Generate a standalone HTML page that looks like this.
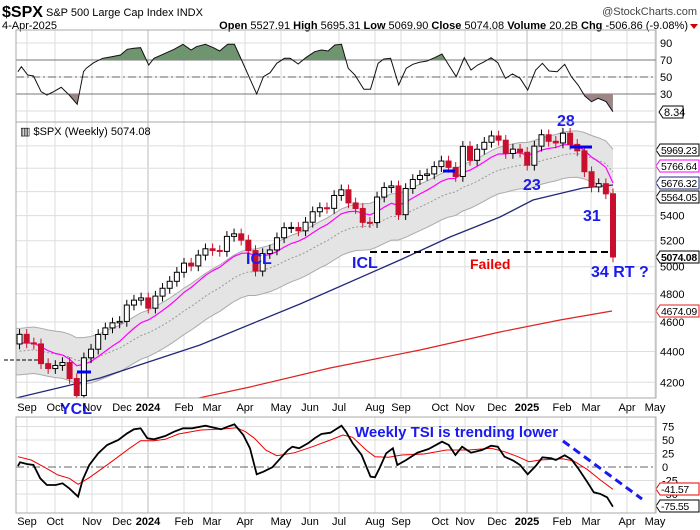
<!DOCTYPE html>
<html><head><meta charset="utf-8">
<style>
body{margin:0;background:#fff;width:700px;height:530px;overflow:hidden;font-family:"Liberation Sans",sans-serif}
svg{position:absolute;left:0;top:0}
</style></head><body>
<svg id="s" width="700" height="530" xmlns="http://www.w3.org/2000/svg" font-family="Liberation Sans, sans-serif"></svg>
<script>
const S=document.getElementById('s');let h='';
const L=16,R=656;
function yP(p){return 266.7-663*Math.log(p/5000);}
h+=`<text x="2" y="17" font-size="16" font-weight="bold">$SPX</text><text x="46" y="16" font-size="11">S&amp;P 500 Large Cap Index  INDX</text>`;
h+=`<text x="697" y="15" font-size="11" text-anchor="end" fill="#444">@StockCharts.com</text>`;
h+=`<text x="2" y="29" font-size="11">4-Apr-2025</text>`;
h+=`<text x="688" y="29" font-size="11" text-anchor="end"><tspan font-weight="bold">Open</tspan> 5527.91 <tspan font-weight="bold">High</tspan> 5695.31 <tspan font-weight="bold">Low</tspan> 5069.90 <tspan font-weight="bold">Close</tspan> 5074.08 <tspan font-weight="bold">Volume</tspan> 20.2B <tspan font-weight="bold">Chg</tspan> -506.86 (-9.08%)</text><path d="M690,24 L698,24 L694,29Z" fill="#c00"/>`;
const months=[[27,'Sep'],[55,'Oct'],[92,'Nov'],[122,'Dec'],[148,'2024',1],[184,'Feb'],[212,'Mar'],[245,'Apr'],[281,'May'],[310,'Jun'],[339,'Jul'],[375,'Aug'],[401,'Sep'],[440,'Oct'],[465,'Nov'],[497,'Dec'],[527,'2025',1],[562,'Feb'],[591,'Mar'],[627,'Apr'],[655,'May']];
function vgrid(t,b){months.forEach(m=>{if(m[0]>L&&m[0]<R)h+=`<line x1="${m[0]}" y1="${t}" x2="${m[0]}" y2="${b}" stroke="${m[2]?'#bbb':'#ddd'}"/>`;});}
function dates(y){months.forEach(m=>{h+=`<text x="${m[0]}" y="${y}" font-size="11" text-anchor="middle" ${m[2]?'font-weight="bold"':''}>${m[1]}</text>`;});}
vgrid(30,122);
[43,60,77,94,111].forEach(y=>h+=`<line x1="${L}" y1="${y}" x2="${R}" y2="${y}" stroke="#ddd"/>`);
h+=`<line x1="${L}" y1="60" x2="${R}" y2="60" stroke="#777"/><line x1="${L}" y1="94" x2="${R}" y2="94" stroke="#777"/><line x1="${L}" y1="77" x2="${R}" y2="77" stroke="#666" stroke-dasharray="8,3,2,3"/>`;
const rsi=[[40,215],[48,200],[62,225],[75,228],[92,275],[105,285],[120,275],[137,262],[155,285],[173,313],[187,215],[193,205],[210,188],[230,175],[250,170],[270,165],[285,148],[300,145],[315,143],[333,195],[345,175],[370,160],[390,148],[410,133],[428,150],[440,140],[460,133],[478,143],[492,153],[510,133],[525,133],[542,183],[575,282],[590,230],[605,218],[620,190],[637,175],[650,175],[668,192],[685,173],[705,155],[720,150],[735,153],[750,135],[765,133],[780,205],[795,225],[815,268],[830,268],[847,190],[860,177],[875,175],[893,255],[910,205],[925,193],[940,187],[957,183],[975,172],[990,162],[1005,195],[1022,230],[1040,173],[1055,210],[1070,195],[1085,185],[1100,173],[1115,188],[1132,235],[1148,222],[1165,235],[1182,270],[1200,210],[1215,190],[1230,213],[1248,215],[1265,193],[1280,230],[1295,255],[1310,288],[1325,305],[1340,295],[1358,305],[1373,335]].map(p=>[p[0]/2.24,p[1]/3]);
const rp=rsi.map(p=>p[0].toFixed(1)+','+p[1].toFixed(1)).join(' ');
h+=`<clipPath id="cg"><rect x="0" y="0" width="700" height="60"/></clipPath><clipPath id="cb"><rect x="0" y="94" width="700" height="40"/></clipPath>`;
h+=`<polygon clip-path="url(#cg)" points="${rsi[0][0]},60 ${rp} ${rsi[rsi.length-1][0]},60" fill="#6f9470"/>`;
h+=`<polygon clip-path="url(#cb)" points="${rsi[0][0]},94 ${rp} ${rsi[rsi.length-1][0]},94" fill="#9c8585"/>`;
h+=`<polyline points="${rp}" fill="none" stroke="#111" stroke-width="1"/>`;
[[90,43],[70,60],[50,77],[30,94]].forEach(a=>h+=`<text x="660" y="${a[1]+4}" font-size="11">${a[0]}</text>`);
h+=`<path d="M659,112 L663,106 L683,106 L683,118 L663,118Z" fill="#fff" stroke="#000"/><text x="664" y="116" font-size="11">8.34</text>`;
h+=`<rect x="${L}" y="30" width="${R-L}" height="92" fill="none" stroke="#aaa"/>`;
vgrid(122,398);
[4200,4400,4600,4800,5000,5200,5400,5600,5800,6000].forEach(p=>h+=`<line x1="${L}" y1="${yP(p)}" x2="${R}" y2="${yP(p)}" stroke="#ddd"/>`);
const C=[4515,4457,4450,4320,4288,4308,4327,4224,4117,4358,4415,4514,4559,4594,4604,4719,4754,4770,4697,4783,4840,4891,4958,5027,5006,5088,5137,5124,5117,5234,5254,5204,5123,4967,5100,5128,5223,5303,5305,5278,5347,5432,5465,5460,5567,5615,5505,5459,5346,5344,5554,5634,5648,5408,5626,5703,5738,5751,5815,5864,5808,5729,5995,5870,5969,6032,6090,6051,5931,5970,5942,5827,5997,6101,6041,6026,6115,6013,5955,5770,5639,5667,5581,5074];
const pre=[4100,4150,4180,4200,4230,4280,4300,4350,4400,4410,4450,4400,4536,4505,4580,4582,4536,4478,4464,4370,4406];
const all=pre.concat(C);const N=C.length,sp=7.15;
const X=i=>613-(N-1-i)*sp;
function ema(n){let k=2/(n+1),e=all[0],o=[];all.forEach(v=>{e=v*k+e*(1-k);o.push(e);});return o.slice(pre.length);}
const e20=ema(20),e10=ema(10);
let up=[],lo=[],md=[],mg=[];
for(let i=0;i<N;i++){up.push(X(i)+','+yP(e20[i]*1.035));lo.push(X(i)+','+yP(e20[i]*0.965));md.push(X(i)+','+yP(e20[i]));mg.push(X(i)+','+yP(e10[i]));}
h+=`<clipPath id="cm"><rect x="${L}" y="122" width="${R-L}" height="276"/></clipPath><g clip-path="url(#cm)">`;
h+=`<polygon points="${L},${yP(e20[0]*1.035)} ${up.join(' ')} ${lo.slice().reverse().join(' ')} ${L},${yP(e20[0]*0.965)}" fill="#e4e4e4"/>`;
h+=`<polyline points="${L},${yP(e20[0]*1.035)} ${up.join(' ')}" fill="none" stroke="#aaa"/><polyline points="${L},${yP(e20[0]*0.965)} ${lo.join(' ')}" fill="none" stroke="#aaa"/>`;
h+=`<polyline points="${md.join(' ')}" fill="none" stroke="#999" stroke-dasharray="2,2"/>`;
h+=`<polyline points="16,398 100,378 200,345 300,304 400,260 450,237 500,217 533,200 583,188 613,185" fill="none" stroke="#22287a" stroke-width="1.3"/>`;
h+=`<polyline points="180,402 250,387 330,368 420,350 500,332 560,320 612,311" fill="none" stroke="#d22" stroke-width="1.2"/>`;
h+=`<polyline points="${mg.join(' ')}" fill="none" stroke="#f0f" stroke-width="1.2"/>`;
for(let i=0;i<N;i++){const c=C[i],o=i?C[i-1]:4450;const hi=Math.max(c,o)*1.008,lw=Math.min(c,o)*0.992;const x=X(i),dn=c<o;const col=dn?'#c8102e':'#000';
h+=`<line x1="${x}" y1="${yP(hi)}" x2="${x}" y2="${yP(lw)}" stroke="${col}"/>`;
const t=yP(Math.max(c,o)),b=yP(Math.min(c,o));h+=`<rect x="${x-2.5}" y="${t}" width="5" height="${Math.max(1,b-t)}" fill="${dn?col:'#fff'}" stroke="${col}"/>`;}
h+=`</g>`;
h+=`<line x1="370" y1="252" x2="610" y2="252" stroke="#000" stroke-width="2" stroke-dasharray="7,4"/><line x1="4" y1="360" x2="40" y2="360" stroke="#000" stroke-dasharray="4,2"/>`;
[[77,91,372],[443,455,171],[570,592,147]].forEach(a=>h+=`<line x1="${a[0]}" y1="${a[2]}" x2="${a[1]}" y2="${a[2]}" stroke="#00f" stroke-width="3"/>`);
h+=`<text x="20" y="135" font-size="11" fill="#000">▥ $SPX (Weekly) 5074.08</text>`;
const bl='fill="#1a1aee" font-weight="bold" font-size="16"';
h+=`<text x="557" y="126" ${bl}>28</text><text x="523" y="190" ${bl}>23</text><text x="583" y="221" ${bl}>31</text><text x="591" y="277" ${bl}>34 RT ?</text><text x="246" y="264" ${bl}>ICL</text><text x="352" y="268" ${bl}>ICL</text><text x="60" y="414" ${bl}>YCL</text>`;
h+=`<text x="470" y="269" fill="#e00" font-weight="bold" font-size="14">Failed</text>`;
[4200,4400,4600,4800,5000,5200,5400].forEach(p=>h+=`<text x="660" y="${yP(p)+4}" font-size="11">${p}</text>`);
function tag(y,t,c,bold){h+=`<path d="M656,${y} L660,${y-6} L699,${y-6} L699,${y+6} L660,${y+6}Z" fill="#fff" stroke="${c}"/><text x="661" y="${y+4}" font-size="10.5" letter-spacing="-0.3" ${bold?'font-weight="bold"':''}>${t}</text>`;}
tag(150,'5969.23','#000');tag(166,'5766.64','#f0f');tag(183,'5676.32','#22287a');tag(197,'5564.05','#000');tag(257,'5074.08','#000',1);tag(311,'4674.09','#d22');
h+=`<rect x="${L}" y="122" width="${R-L}" height="276" fill="none" stroke="#aaa"/>`;
dates(411);
vgrid(417,513);
const yT=v=>467-v*0.54;
[75,50,25,-25,-50].forEach(v=>h+=`<line x1="${L}" y1="${yT(v)}" x2="${R}" y2="${yT(v)}" stroke="#ddd"/>`);
h+=`<line x1="${L}" y1="467" x2="${R}" y2="467" stroke="#666" stroke-dasharray="8,3,2,3"/>`;
const tb=[[40,258],[45,247],[60,252],[75,255],[90,295],[105,315],[125,315],[140,310],[155,325],[175,350],[185,300],[200,255],[220,220],[240,195],[265,180],[285,160],[300,148],[315,145],[330,175],[345,178],[370,168],[390,155],[410,145],[430,145],[460,137],[475,142],[495,148],[510,140],[525,133],[545,165],[560,205],[575,283],[590,275],[610,262],[630,232],[645,210],[655,200],[670,205],[690,190],[705,175],[720,162],[740,158],[765,137],[775,155],[790,190],[810,225],[830,290],[840,292],[850,265],[865,220],[880,205],[890,255],[910,240],[935,218],[960,207],[990,185],[1005,195],[1020,225],[1035,200],[1055,218],[1080,210],[1100,197],[1115,200],[1130,230],[1150,242],[1165,255],[1182,283],[1200,258],[1215,232],[1235,235],[1245,240],[1265,226],[1280,238],[1295,265],[1315,305],[1330,337],[1345,342],[1360,352],[1373,380]];
const tr=[[40,230],[70,240],[100,262],[130,285],[155,295],[175,313],[200,293],[250,245],[290,205],[315,182],[345,182],[370,178],[400,162],[450,150],[500,147],[530,143],[550,155],[570,175],[595,210],[620,227],[660,218],[700,200],[740,180],[768,165],[790,172],[820,210],[840,230],[870,232],[900,225],[950,222],[1000,210],[1050,210],[1100,205],[1130,215],[1160,230],[1185,245],[1210,240],[1260,236],[1285,243],[1315,268],[1345,300],[1373,328]];
const cv=a=>a.map(p=>(p[0]/2.24).toFixed(1)+','+(p[1]/3+380).toFixed(1)).join(' ');
h+=`<polyline points="${cv(tr)}" fill="none" stroke="#e00" stroke-width="1"/><polyline points="${cv(tb)}" fill="none" stroke="#000" stroke-width="1.8"/>`;
h+=`<line x1="563" y1="441" x2="642" y2="499" stroke="#1a1aee" stroke-width="3" stroke-dasharray="8,5"/>`;
h+=`<text x="355" y="437" fill="#1a1aee" font-weight="bold" font-size="15">Weekly TSI is trending lower</text>`;
[75,50,25,0,-25,-50].forEach(v=>h+=`<text x="662" y="${yT(v)+4}" font-size="11">${v}</text>`);
tag(489,'-41.57','#e00');tag(506,'-75.55','#000');
h+=`<rect x="${L}" y="417" width="${R-L}" height="96" fill="none" stroke="#aaa"/>`;
dates(525);
S.innerHTML=h;
</script>
</body></html>
